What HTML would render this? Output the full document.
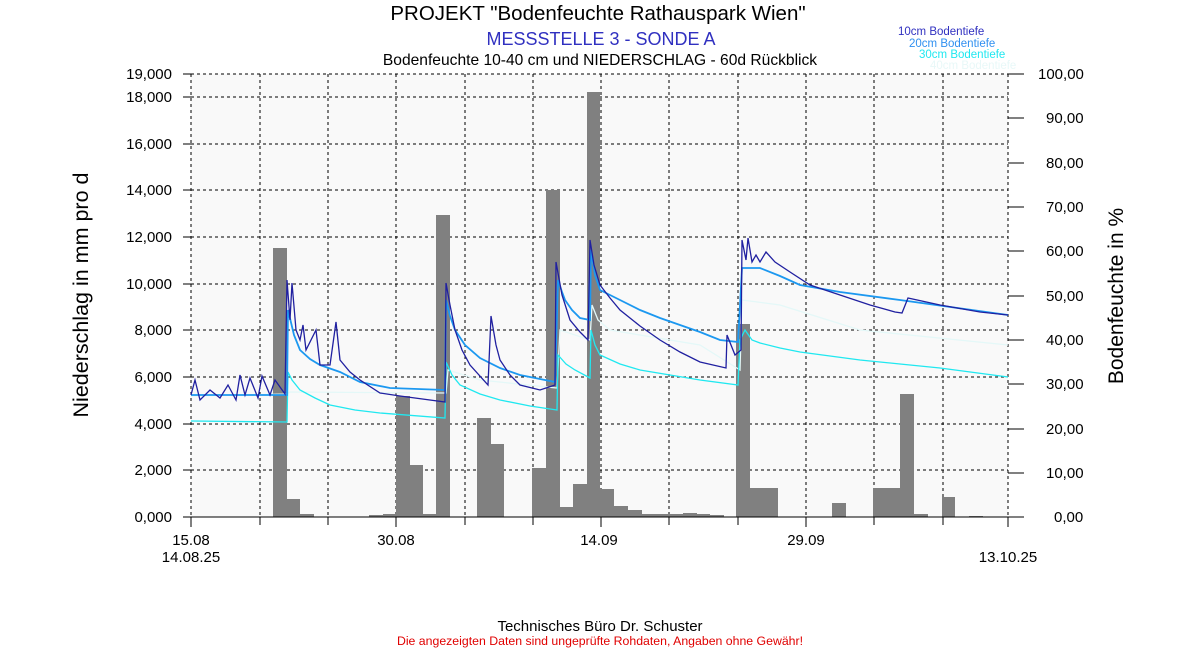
<!DOCTYPE html>
<html><head><meta charset="utf-8"><style>
body{margin:0;background:#fff;width:1200px;height:650px;overflow:hidden;font-family:"Liberation Sans",Arial,sans-serif}
</style></head><body>
<svg width="1200" height="650" xmlns="http://www.w3.org/2000/svg" font-family="Liberation Sans, Arial, sans-serif">
<rect x="191" y="74" width="817" height="443" fill="#f9f9f9"/>
<g stroke="#000" stroke-dasharray="3,3" stroke-width="1">
<line x1="191" y1="74" x2="1008" y2="74"/><line x1="191" y1="97" x2="1008" y2="97"/>
<line x1="191" y1="144" x2="1008" y2="144"/><line x1="191" y1="190" x2="1008" y2="190"/>
<line x1="191" y1="237" x2="1008" y2="237"/><line x1="191" y1="284" x2="1008" y2="284"/>
<line x1="191" y1="330" x2="1008" y2="330"/><line x1="191" y1="377" x2="1008" y2="377"/>
<line x1="191" y1="424" x2="1008" y2="424"/><line x1="191" y1="470" x2="1008" y2="470"/>
<line x1="191" y1="74" x2="191" y2="517"/><line x1="260" y1="74" x2="260" y2="517"/>
<line x1="328" y1="74" x2="328" y2="517"/><line x1="396" y1="74" x2="396" y2="517"/>
<line x1="465" y1="74" x2="465" y2="517"/><line x1="533" y1="74" x2="533" y2="517"/>
<line x1="601" y1="74" x2="601" y2="517"/><line x1="669" y1="74" x2="669" y2="517"/>
<line x1="738" y1="74" x2="738" y2="517"/><line x1="806" y1="74" x2="806" y2="517"/>
<line x1="874" y1="74" x2="874" y2="517"/><line x1="943" y1="74" x2="943" y2="517"/>
<line x1="1008" y1="74" x2="1008" y2="517"/>
</g>
<g fill="#808080">
<rect x="273" y="248" width="14" height="269"/><rect x="287" y="499" width="13" height="18"/><rect x="300" y="514" width="14" height="3"/>
<rect x="369" y="515" width="14" height="2"/><rect x="383" y="514" width="13" height="3"/>
<rect x="396" y="396" width="14" height="121"/><rect x="410" y="465" width="13" height="52"/><rect x="423" y="514" width="13" height="3"/>
<rect x="436" y="215" width="14" height="302"/>
<rect x="477" y="418" width="14" height="99"/><rect x="491" y="444" width="13" height="73"/>
<rect x="532" y="468" width="14" height="49"/><rect x="546" y="190" width="14" height="327"/><rect x="560" y="507" width="13" height="10"/>
<rect x="573" y="484" width="14" height="33"/><rect x="587" y="92" width="13" height="425"/>
<rect x="600" y="489" width="14" height="28"/><rect x="614" y="506" width="14" height="11"/><rect x="628" y="510" width="14" height="7"/>
<rect x="642" y="514" width="41" height="3"/><rect x="683" y="513" width="14" height="4"/><rect x="697" y="514" width="13" height="3"/><rect x="710" y="515" width="14" height="2"/>
<rect x="736" y="324" width="14" height="193"/><rect x="750" y="488" width="28" height="29"/>
<rect x="832" y="503" width="14" height="14"/>
<rect x="873" y="488" width="27" height="29"/><rect x="900" y="394" width="14" height="123"/><rect x="914" y="514" width="14" height="3"/>
<rect x="942" y="497" width="13" height="20"/><rect x="969" y="516" width="14" height="1"/>
</g>
<g fill="none" stroke-width="1.3">
<polyline stroke="#e4f8f8" points="191,396 287,394 290,392 446,393 448,370 480,380 557,388 560,330 590,340 592,305 598,320 610,330 700,345 740,370 742,300 780,305 860,330 1008,345"/>
<polyline stroke="#20e8f0" points="191,421 287,422 288,372 292,380 300,390 315,398 330,405 355,410 380,413 445,418 446,362 452,375 460,385 480,394 500,400 530,406 557,410 558,355 566,364 575,370 590,378 591,330 595,345 600,355 620,364 640,370 670,375 700,380 738,385 740,340 745,330 752,340 760,343 780,348 800,352 830,356 860,360 900,364 940,368 1008,377"/>
<polyline stroke="#1c98f0" stroke-width="1.8" points="191,395 287,395 288,310 294,335 300,350 310,359 320,365 340,372 360,382 390,388 445,390 446,300 450,316 455,330 465,345 480,358 500,368 520,375 555,382 558,280 562,292 565,300 572,310 580,318 590,320 591,250 595,275 600,290 620,300 640,310 660,318 680,325 700,332 720,340 738,342 742,268 760,268 780,276 800,285 840,292 900,300 1008,315"/>
<polyline stroke="#2020a0" points="191,395 195,380 200,400 210,390 220,398 228,385 236,400 240,375 245,395 250,378 258,398 262,376 270,395 275,380 285,394 287,280 290,320 292,283 296,330 300,340 303,325 306,350 316,330 320,365 330,365 336,322 340,360 350,372 360,380 380,393 400,396 445,402 446,283 450,305 455,330 462,350 470,365 488,385 491,316 496,345 500,360 510,375 520,385 540,390 555,385 556,262 562,295 570,320 580,332 588,340 590,240 594,265 600,285 610,298 620,310 640,326 660,340 680,352 700,362 726,368 727,335 735,355 741,350 742,240 746,260 748,238 752,262 756,255 760,262 766,252 775,262 790,272 810,285 840,295 870,305 895,312 902,313 908,298 940,305 980,312 1008,315"/>
</g>
<g stroke="#000" stroke-width="1">
<line x1="191" y1="517" x2="1008" y2="517"/>
<line x1="191" y1="517" x2="191" y2="527"/><line x1="396" y1="517" x2="396" y2="527"/><line x1="601" y1="517" x2="601" y2="527"/><line x1="806" y1="517" x2="806" y2="527"/><line x1="1008" y1="517" x2="1008" y2="527"/>
<line x1="260" y1="517" x2="260" y2="525"/><line x1="328" y1="517" x2="328" y2="525"/><line x1="465" y1="517" x2="465" y2="525"/><line x1="533" y1="517" x2="533" y2="525"/><line x1="669" y1="517" x2="669" y2="525"/><line x1="738" y1="517" x2="738" y2="525"/><line x1="874" y1="517" x2="874" y2="525"/><line x1="943" y1="517" x2="943" y2="525"/>
<line x1="183" y1="74" x2="191" y2="74"/><line x1="183" y1="97" x2="191" y2="97"/><line x1="183" y1="144" x2="191" y2="144"/><line x1="183" y1="190" x2="191" y2="190"/><line x1="183" y1="237" x2="191" y2="237"/><line x1="183" y1="284" x2="191" y2="284"/><line x1="183" y1="330" x2="191" y2="330"/><line x1="183" y1="377" x2="191" y2="377"/><line x1="183" y1="424" x2="191" y2="424"/><line x1="183" y1="470" x2="191" y2="470"/><line x1="183" y1="517" x2="191" y2="517"/>
<line x1="1008" y1="74" x2="1024" y2="74"/><line x1="1008" y1="118" x2="1024" y2="118"/><line x1="1008" y1="163" x2="1024" y2="163"/><line x1="1008" y1="207" x2="1024" y2="207"/><line x1="1008" y1="251" x2="1024" y2="251"/><line x1="1008" y1="296" x2="1024" y2="296"/><line x1="1008" y1="340" x2="1024" y2="340"/><line x1="1008" y1="384" x2="1024" y2="384"/><line x1="1008" y1="429" x2="1024" y2="429"/><line x1="1008" y1="473" x2="1024" y2="473"/><line x1="1008" y1="517" x2="1024" y2="517"/>
</g>
<g font-size="15" fill="#000" text-anchor="end">
<text x="172" y="79">19,000</text><text x="172" y="102">18,000</text><text x="172" y="149">16,000</text><text x="172" y="195">14,000</text><text x="172" y="242">12,000</text><text x="172" y="289">10,000</text><text x="172" y="335">8,000</text><text x="172" y="382">6,000</text><text x="172" y="429">4,000</text><text x="172" y="475">2,000</text><text x="172" y="522">0,000</text>
</g>
<g font-size="15" fill="#000" text-anchor="start">
<text x="1038" y="79">100,00</text><text x="1046" y="123">90,00</text><text x="1046" y="168">80,00</text><text x="1046" y="212">70,00</text><text x="1046" y="256">60,00</text><text x="1046" y="301">50,00</text><text x="1046" y="345">40,00</text><text x="1046" y="389">30,00</text><text x="1046" y="434">20,00</text><text x="1046" y="478">10,00</text><text x="1054" y="522">0,00</text>
</g>
<g font-size="15" fill="#000" text-anchor="middle">
<text x="191" y="545">15.08</text><text x="191" y="562">14.08.25</text><text x="396" y="545">30.08</text><text x="599" y="545">14.09</text><text x="806" y="545">29.09</text><text x="1008" y="562">13.10.25</text>
</g>
<text x="88" y="295" font-size="21.5" text-anchor="middle" transform="rotate(-90 88 295)">Niederschlag in mm pro d</text>
<text x="1123" y="296" font-size="21" text-anchor="middle" transform="rotate(-90 1123 296)">Bodenfeuchte in %</text>
<text x="598" y="20" font-size="20.5" text-anchor="middle">PROJEKT "Bodenfeuchte Rathauspark Wien"</text>
<text x="601" y="45" font-size="18" fill="#3030c0" text-anchor="middle">MESSSTELLE 3 - SONDE A</text>
<text x="600" y="65" font-size="15.6" text-anchor="middle">Bodenfeuchte 10-40 cm und NIEDERSCHLAG - 60d Rückblick</text>
<g font-size="11.5">
<text x="898" y="35" fill="#3030c0">10cm Bodentiefe</text>
<text x="909" y="47" fill="#3090f0">20cm Bodentiefe</text>
<text x="919" y="58" fill="#20e8f0">30cm Bodentiefe</text>
<text x="930" y="69" fill="#e8f8f8">40cm Bodentiefe</text>
</g>
<text x="600" y="631" font-size="15" text-anchor="middle">Technisches Büro Dr. Schuster</text>
<text x="600" y="645" font-size="12.3" fill="#e00000" text-anchor="middle">Die angezeigten Daten sind ungeprüfte Rohdaten, Angaben ohne Gewähr!</text>
</svg>
</body></html>
